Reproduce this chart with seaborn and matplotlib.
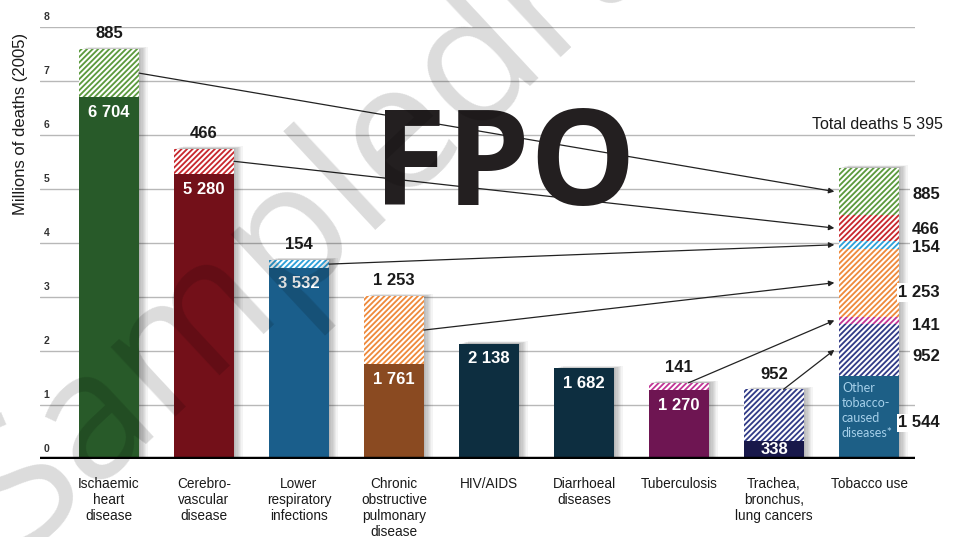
import numpy as np
import pandas as pd
import matplotlib
matplotlib.use("Agg")
import matplotlib.pyplot as plt
import seaborn as sns

# Deaths in thousands (2005)
categories = [
    "Ischaemic\nheart\ndisease",
    "Cerebro-\nvascular\ndisease",
    "Lower\nrespiratory\ninfections",
    "Chronic\nobstructive\npulmonary\ndisease",
    "HIV/AIDS",
    "Diarrhoeal\ndiseases",
    "Tuberculosis",
    "Trachea,\nbronchus,\nlung cancers",
    "Tobacco use",
]
other_deaths = [6704, 5280, 3532, 1761, 2138, 1682, 1270, 338, 1544]
tobacco_deaths = [885, 466, 154, 1253, 0, 0, 141, 952, 0]
# order in which tobacco-caused deaths are stacked in the last bar (bottom -> top)
tobacco_stack = [7, 6, 3, 2, 1, 0]
y_ticks = [0, 1, 2, 3, 4, 5, 6, 7, 8]

base_colors = ["#285a29", "#731019", "#1a5e8b", "#8a4a21", "#0d2e40",
               "#0d2e40", "#6e1552", "#18184a", "#1d5f86"]
hatch_colors = ["#5c9a3e", "#c8282e", "#2da0d9", "#ef8a3c", "#0d2e40",
                "#0d2e40", "#c13596", "#323c88", "#1d5f86"]
# vertical nudges (points) for the labels beside the tobacco bar
side_label_nudge = {0: -2, 1: -1, 2: -2, 3: -7, 6: -4, 7: -5, "other": -4}

sns.set_theme(style="white")
plt.rcParams["font.family"] = ["Liberation Sans", "DejaVu Sans"]
plt.rcParams["hatch.linewidth"] = 1.5

TXT = "#1a1a1a"
fig = plt.figure(figsize=(9.54, 5.37), dpi=100)
ax = fig.add_axes([40 / 954, 1 - 459 / 537, 875 / 954, 432 / 537])

W = 0.63
HATCH = "//////"
n = len(categories)
xs = np.arange(n)
base = np.array(other_deaths) / 1000
tob = np.array(tobacco_deaths) / 1000
totals = base + tob
totals[-1] = base[-1] + tob[tobacco_stack].sum()

# soft drop shadows behind the bars
for k in range(1, 8):
    ax.bar(xs + k * 0.013, totals + k * 0.006, width=W, color="black",
           alpha=0.045, linewidth=0, zorder=2)

df = pd.DataFrame({"cause": categories, "deaths": base})
sns.barplot(data=df, x="cause", y="deaths", hue="cause", palette=base_colors,
            legend=False, width=W, saturation=1, linewidth=0, ax=ax, zorder=3)

# hatched tobacco-attributable parts on each disease bar
for i in range(n - 1):
    if tob[i] > 0:
        ax.bar(xs[i], tob[i], bottom=base[i], width=W, color=hatch_colors[i],
               edgecolor="white", hatch=HATCH, linewidth=0, zorder=3)

# stacked tobacco-use bar
bottom = base[-1]
seg_mid = {}
for i in tobacco_stack:
    ax.bar(xs[-1], tob[i], bottom=bottom, width=W, color=hatch_colors[i],
           edgecolor="white", hatch=HATCH, linewidth=0, zorder=3)
    seg_mid[i] = bottom + tob[i] / 2
    bottom += tob[i]


def fmt(v):
    return f"{v:,}".replace(",", " ")


# value labels
for i in range(n - 1):
    top = totals[i]
    if tob[i] > 0:
        ax.annotate(fmt(tobacco_deaths[i]), (xs[i], top), xytext=(0, 11),
                    textcoords="offset points", ha="center", va="center",
                    fontsize=12, fontweight="bold", color=TXT, zorder=6)
    if base[i] < 0.6:
        ax.text(xs[i], base[i] / 2, fmt(other_deaths[i]), ha="center", va="center",
                fontsize=12, fontweight="bold", color="white", zorder=6)
    else:
        ax.annotate(fmt(other_deaths[i]), (xs[i], base[i]), xytext=(0, -11),
                    textcoords="offset points", ha="center", va="center",
                    fontsize=12, fontweight="bold", color="white", zorder=6)

# labels to the right of the tobacco bar
lab_x = xs[-1] + 0.745
box = dict(boxstyle="square,pad=0.1", fc="white", ec="none")
for i in tobacco_stack:
    ax.annotate(fmt(tobacco_deaths[i]), (lab_x, seg_mid[i]),
                xytext=(0, side_label_nudge[i]), textcoords="offset points",
                ha="right", va="center", fontsize=12, fontweight="bold",
                color=TXT, zorder=6, annotation_clip=False, bbox=box)
ax.annotate(fmt(other_deaths[-1]), (lab_x, base[-1] / 2),
            xytext=(0, side_label_nudge["other"]), textcoords="offset points",
            ha="right", va="center", fontsize=12, fontweight="bold",
            color=TXT, zorder=6, annotation_clip=False, bbox=box)
ax.text(xs[-1] - 0.285, base[-1] - 0.12, "Other\ntobacco-\ncaused\ndiseases*",
        ha="left", va="top", fontsize=9, color="#a6d0ea", linespacing=1.3,
        family=["Lato", "DejaVu Sans"], zorder=6)
ax.text(lab_x + 0.03, 6.06, "Total deaths " + fmt(int(round(totals[-1] * 1000))),
        ha="right", va="bottom", fontsize=11.5, color=TXT, clip_on=False, zorder=6)

# arrows from each hatched part to its slice of the tobacco bar
tip_x = xs[-1] - W / 2 - 0.05
for i in tobacco_stack:
    if i in (6, 7):
        start = (xs[i] + 0.1, totals[i])
    else:
        start = (xs[i] + W / 2, base[i] + tob[i] / 2)
    ax.annotate("", xy=(tip_x, seg_mid[i]), xytext=start,
                arrowprops=dict(arrowstyle="-|>", color="#222222", lw=0.9,
                                mutation_scale=8, shrinkA=0, shrinkB=0),
                zorder=5)

# axes styling
ax.set_xlim(-0.726, 8.484)
ax.set_ylim(0, 8)
ax.set_yticks(y_ticks)
ax.yaxis.grid(True, color="#b8b8b8", lw=1)
ax.set_axisbelow(True)
ax.tick_params(axis="y", left=False, labelleft=False)
ax.tick_params(axis="x", bottom=False, pad=7)
ax.set_xticks(xs)
ax.set_xticklabels(categories, fontsize=9.8, color=TXT, linespacing=1.17, va="top")
ax.set_xlabel("")
ax.set_ylabel("")
for s in ax.spines.values():
    s.set_visible(False)
ax.axhline(0, color="black", lw=3.2, zorder=5)
for v in y_ticks:
    ax.text(-0.69, v + 0.1, str(v), ha="left", va="bottom", fontsize=7.5,
            fontweight="bold", color="#333333", zorder=6)

fig.text(0.021, 1 - 124 / 537, "Millions of deaths (2005)", rotation=90,
         ha="center", va="center", fontsize=12, color=TXT)

fig.text(505 / 954, 1 - 205 / 537, "FPO", ha="center", va="baseline",
         fontsize=96, fontweight="bold", color="#231f20",
         family=["Open Sans", "DejaVu Sans"], zorder=8)

fig.text(0.02, -0.03, "Sampledraft", rotation=43, rotation_mode="anchor",
         ha="left", va="baseline", fontsize=128, color="black", alpha=0.14,
         family=["Open Sans", "DejaVu Sans"], zorder=9)

fig.savefig("out.png", dpi=100, facecolor="white")
